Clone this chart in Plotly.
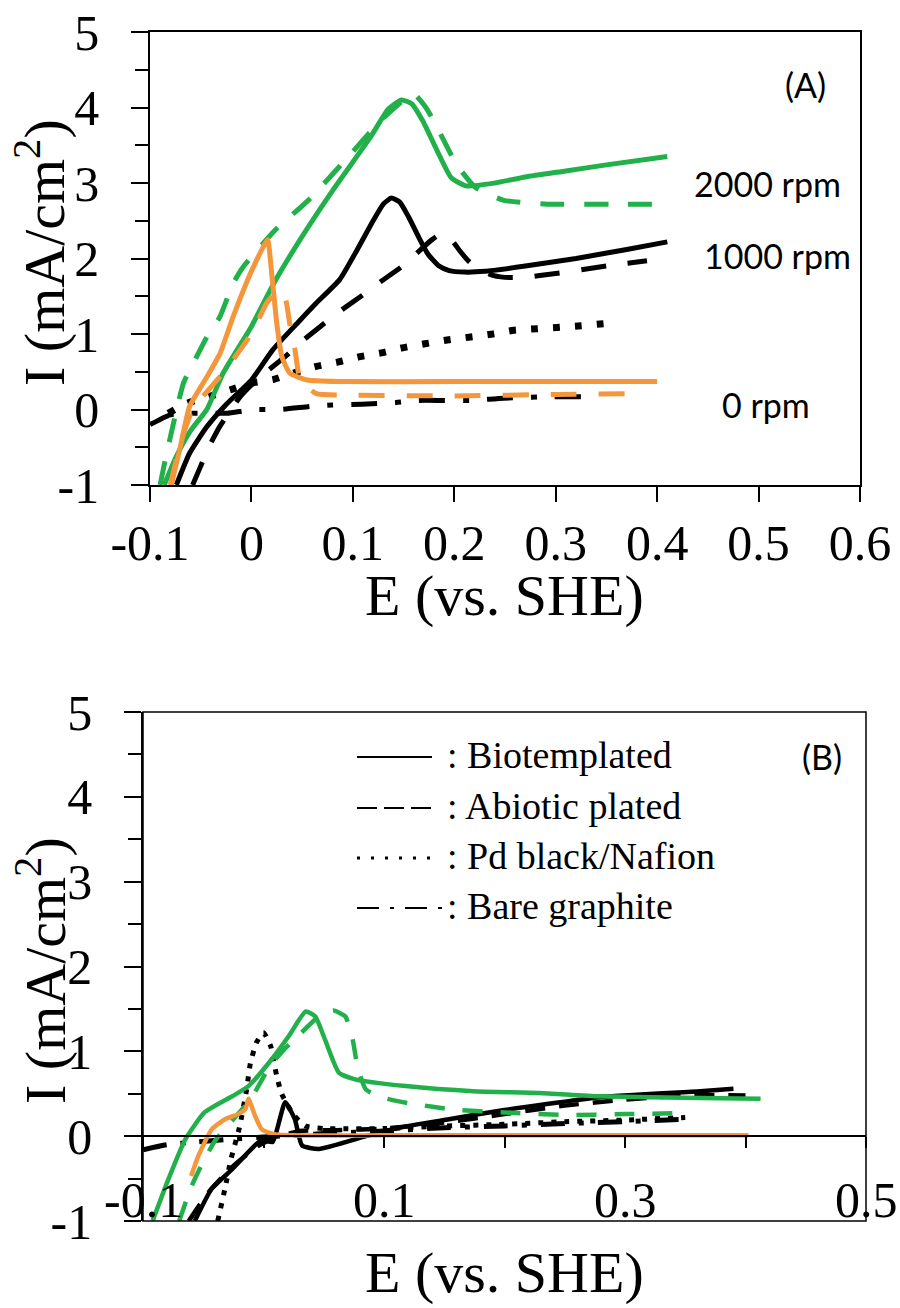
import plotly.graph_objects as go

W, H = 900, 1308

# ---------------- Panel A: rotation-rate series (E vs SHE / V, I / mA cm^-2) ----------------
A_2000_BIO_E = [-0.086, -0.074, -0.06, -0.044, -0.028, 0.0, 0.022, 0.048, 0.08, 0.117, 0.135, 0.148,
                0.158, 0.169, 0.183, 0.197, 0.212, 0.24, 0.27, 0.31, 0.35, 0.41]
A_2000_BIO_I = [-1.0, -0.62, -0.28, 0.0, 0.48, 1.1, 1.67, 2.25, 2.9, 3.6, 3.98, 4.1,
                4.05, 3.82, 3.43, 3.07, 2.96, 3.0, 3.08, 3.16, 3.24, 3.35]

A_2000_ABIO_E = [-0.09, -0.085, -0.067, -0.057, -0.044, -0.031, -0.018, -0.008, 0.023, 0.056, 0.089,
                 0.127, 0.15, 0.16, 0.172, 0.183, 0.202, 0.221, 0.249, 0.292, 0.363, 0.405]
A_2000_ABIO_I = [-1.0, -0.67, 0.35, 0.62, 0.96, 1.23, 1.67, 1.89, 2.37, 2.77, 3.25,
                 3.82, 4.1, 4.18, 4.0, 3.74, 3.25, 2.94, 2.77, 2.72, 2.72, 2.72]

A_1000_BIO_E = [-0.074, -0.061, -0.044, -0.024, 0.0, 0.021, 0.045, 0.064, 0.087, 0.104, 0.12, 0.13,
                0.138, 0.146, 0.155, 0.165, 0.174, 0.185, 0.195, 0.21, 0.23, 0.27, 0.32, 0.37, 0.41]
A_1000_BIO_I = [-1.0, -0.58, -0.23, 0.08, 0.39, 0.79, 1.14, 1.41, 1.72, 2.11, 2.5, 2.72,
                2.8, 2.75, 2.55, 2.28, 2.06, 1.9, 1.84, 1.82, 1.83, 1.9, 2.0, 2.12, 2.22]

A_1000_ABIO_E = [-0.058, -0.05, -0.044, -0.031, -0.011, 0.005, 0.035, 0.045, 0.068, 0.087, 0.107, 0.127,
                 0.15, 0.163, 0.178, 0.188, 0.197, 0.205, 0.213, 0.221, 0.235, 0.25, 0.268, 0.3, 0.35, 0.39]
A_1000_ABIO_I = [-1.0, -0.75, -0.55, -0.22, 0.17, 0.39, 0.72, 0.85, 1.10, 1.30, 1.49, 1.69,
                 1.91, 2.07, 2.25, 2.33, 2.25, 2.11, 1.98, 1.89, 1.79, 1.75, 1.75, 1.8, 1.9, 1.97]

A_1000_PD_E = [-0.082, -0.064, -0.042, -0.021, 0.0, 0.022, 0.043, 0.064, 0.086, 0.107, 0.128, 0.15,
               0.171, 0.193, 0.216, 0.238, 0.259, 0.282, 0.304, 0.325, 0.35]
A_1000_PD_I = [-0.05, 0.08, 0.17, 0.26, 0.35, 0.40, 0.49, 0.57, 0.63, 0.70, 0.75, 0.82,
               0.87, 0.92, 0.96, 1.0, 1.05, 1.07, 1.09, 1.11, 1.14]

A_1000_BARE_E = [-0.1, -0.08, -0.06, -0.04, -0.024, 0.002, 0.028, 0.058, 0.08, 0.109, 0.141, 0.164,
                 0.19, 0.216, 0.249, 0.297, 0.325]
A_1000_BARE_I = [-0.2, -0.07, -0.05, -0.05, -0.05, 0.0, 0.0, 0.04, 0.06, 0.07, 0.09, 0.12,
                 0.12, 0.12, 0.15, 0.17, 0.17]

A_0_BIO_E = [-0.079, -0.07, -0.061, -0.044, -0.031, -0.018, -0.001, 0.012, 0.016, 0.02, 0.025, 0.03,
             0.038, 0.055, 0.087, 0.2, 0.3, 0.4]
A_0_BIO_I = [-1.0, -0.49, 0.04, 0.43, 0.74, 1.23, 1.80, 2.16, 2.25, 1.8, 1.14, 0.70,
             0.48, 0.39, 0.37, 0.37, 0.37, 0.37]

A_0_ABIO_E = [-0.08, -0.07, -0.058, -0.041, -0.028, -0.011, 0.002, 0.015, 0.027, 0.033, 0.038, 0.043,
              0.047, 0.055, 0.064, 0.1, 0.2, 0.3, 0.37]
A_0_ABIO_I = [-1.0, -0.45, 0.0, 0.28, 0.48, 0.79, 1.05, 1.41, 1.58, 1.5, 1.12, 0.79,
              0.45, 0.3, 0.21, 0.19, 0.18, 0.2, 0.21]

# ---------------- Panel B ----------------
B_GREEN_BIO_E = [-0.092, -0.079, -0.065, -0.049, -0.026, -0.0125, 0.007, 0.021, 0.035, 0.043, 0.051,
                 0.0625, 0.076, 0.118, 0.174, 0.229, 0.279, 0.3625, 0.4125]
B_GREEN_BIO_I = [-1.0, -0.51, -0.04, 0.28, 0.47, 0.59, 0.91, 1.18, 1.47, 1.41, 1.14,
                 0.75, 0.67, 0.59, 0.53, 0.51, 0.47, 0.45, 0.44]

B_GREEN_ABIO_E = [-0.07, -0.06, -0.05, -0.04, -0.025, -0.01, 0.005, 0.017, 0.03, 0.045, 0.058, 0.068,
                  0.074, 0.078, 0.085, 0.1, 0.12, 0.16, 0.2, 0.25, 0.3, 0.345]
B_GREEN_ABIO_I = [-1.0, -0.6, -0.3, -0.05, 0.2, 0.45, 0.82, 1.02, 1.2, 1.4, 1.48, 1.41,
                  1.14, 0.82, 0.55, 0.45, 0.39, 0.31, 0.28, 0.25, 0.26, 0.27]

B_BLACK_BIO_E = [-0.057, -0.043, -0.026, -0.01, -0.0014, 0.0075, 0.018, 0.026, 0.032, 0.046, 0.085,
                 0.1125, 0.154, 0.196, 0.279, 0.3625, 0.39]
B_BLACK_BIO_I = [-1.0, -0.62, -0.39, -0.15, -0.04, -0.07, 0.40, 0.2, -0.11, -0.15, 0.0,
                 0.1, 0.2, 0.3, 0.46, 0.53, 0.56]

B_BLACK_ABIO_E = [-0.062, -0.045, -0.025, -0.005, 0.01, 0.03, 0.06, 0.1, 0.15, 0.2, 0.25, 0.3, 0.35, 0.4]
B_BLACK_ABIO_I = [-1.0, -0.65, -0.35, -0.12, -0.02, 0.06, 0.07, 0.09, 0.16, 0.26, 0.36, 0.43, 0.48, 0.48]

B_BLACK_PD_E = [-0.038, -0.032, -0.027, -0.02, -0.014, -0.011, -0.006, 0.0, 0.006, 0.0083, 0.011,
                0.015, 0.025, 0.035, 0.05, 0.1, 0.15, 0.2, 0.25, 0.3, 0.35]
B_BLACK_PD_I = [-1.0, -0.62, -0.27, 0.1, 0.55, 0.85, 1.1, 1.22, 1.06, 0.89, 0.71,
                0.5, 0.25, 0.12, 0.09, 0.09, 0.12, 0.14, 0.17, 0.19, 0.22]

B_BLACK_BARE_E = [-0.1, -0.08, -0.057, -0.03, 0.0, 0.05, 0.1, 0.15, 0.2, 0.25, 0.3, 0.35]
B_BLACK_BARE_I = [-0.16, -0.1, -0.07, -0.04, -0.01, 0.03, 0.06, 0.1, 0.12, 0.15, 0.17, 0.2]

B_ORANGE_BIO_E = [-0.06, -0.054, -0.043, -0.032, -0.021, -0.015, -0.0125, -0.007, -0.0014, 0.01,
                  0.1, 0.2, 0.3, 0.4025]
B_ORANGE_BIO_I = [-0.47, -0.23, 0.08, 0.2, 0.26, 0.32, 0.44, 0.24, 0.08, 0.02,
                  0.01, 0.01, 0.01, 0.01]

# ---------------- Axis ticks ----------------
A_XTICKS = [-0.1, 0.0, 0.1, 0.2, 0.3, 0.4, 0.5, 0.6]
A_XTICK_LABELS = ["-0.1", "0", "0.1", "0.2", "0.3", "0.4", "0.5", "0.6"]
Y_TICKS = [-1, 0, 1, 2, 3, 4, 5]
Y_TICK_LABELS = ["-1", "0", "1", "2", "3", "4", "5"]
B_XTICK_LABEL_VALUES = [-0.1, 0.1, 0.3, 0.5]
B_XTICK_LABELS = ["-0.1", "0.1", "0.3", "0.5"]

GREEN = "#22B04B"
ORANGE = "#F4963C"
BLACK = "#000000"

SERIF = "Liberation Serif"
SANS = "Lato"


def px_x(p):
    return p / W


def px_y(p):
    return 1 - p / H


fig = go.Figure()


def add_line(x, y, color, width, dash, xa, ya):
    fig.add_trace(go.Scatter(
        x=x, y=y, mode="lines", xaxis=xa, yaxis=ya, showlegend=False,
        line=dict(color=color, width=width, dash=dash, shape="spline", smoothing=0.5),
        hoverinfo="skip",
    ))


# panel A curves
add_line(A_1000_BARE_E, A_1000_BARE_I, BLACK, 5, "26px,18px,6px,18px", "x", "y")
add_line(A_1000_PD_E, A_1000_PD_I, BLACK, 7, "7px,15px", "x", "y")
add_line(A_1000_ABIO_E, A_1000_ABIO_I, BLACK, 5, "25px,22px", "x", "y")
add_line(A_1000_BIO_E, A_1000_BIO_I, BLACK, 5, "solid", "x", "y")
add_line(A_2000_ABIO_E, A_2000_ABIO_I, GREEN, 5, "24px,20px", "x", "y")
add_line(A_2000_BIO_E, A_2000_BIO_I, GREEN, 5, "solid", "x", "y")
add_line(A_0_ABIO_E, A_0_ABIO_I, ORANGE, 5, "26px,22px", "x", "y")
add_line(A_0_BIO_E, A_0_BIO_I, ORANGE, 5, "solid", "x", "y")

# panel B curves
add_line(B_BLACK_BARE_E, B_BLACK_BARE_I, BLACK, 5, "24px,14px,5px,14px", "x2", "y2")
add_line(B_BLACK_PD_E, B_BLACK_PD_I, BLACK, 5, "5px,8px", "x2", "y2")
add_line(B_BLACK_ABIO_E, B_BLACK_ABIO_I, BLACK, 4.5, "20px,14px", "x2", "y2")
add_line(B_BLACK_BIO_E, B_BLACK_BIO_I, BLACK, 4.5, "solid", "x2", "y2")
add_line(B_GREEN_ABIO_E, B_GREEN_ABIO_I, GREEN, 4.5, "20px,18px", "x2", "y2")
add_line(B_GREEN_BIO_E, B_GREEN_BIO_I, GREEN, 4.5, "solid", "x2", "y2")
add_line(B_ORANGE_BIO_E, B_ORANGE_BIO_I, ORANGE, 4.5, "solid", "x2", "y2")

tickfont = dict(family=SERIF, size=50, color="black")

A_DOM_X = [px_x(150), px_x(860)]
A_DOM_Y = [px_y(485), px_y(32)]
B_DOM_X = [px_x(143), px_x(866)]
B_DOM_Y = [px_y(1221), px_y(712)]
B_RANGE_Y = [-1, 5]
# the bottom panel's E axis is drawn along I = 0
b_axis_pos = B_DOM_Y[0] + (0 - B_RANGE_Y[0]) / (B_RANGE_Y[1] - B_RANGE_Y[0]) * (B_DOM_Y[1] - B_DOM_Y[0])

yaxis_common = dict(
    range=B_RANGE_Y, tickmode="array", tickvals=Y_TICKS, ticktext=Y_TICK_LABELS,
    ticks="outside", ticklen=17, tickwidth=1.5, tickcolor="black",
    minor=dict(tickmode="linear", tick0=-1, dtick=0.5, ticks="outside", ticklen=13,
               tickwidth=1.5, tickcolor="black"),
    showline=True, linecolor="black", linewidth=1.5, showgrid=False, zeroline=False,
    tickfont=tickfont, ticklabelstandoff=22, automargin=False,
)

fig.update_layout(
    width=W, height=H, margin=dict(l=0, r=0, t=0, b=0, autoexpand=False),
    paper_bgcolor="white", plot_bgcolor="white", showlegend=False,
    xaxis=dict(
        domain=A_DOM_X, anchor="y", range=[-0.1, 0.6],
        tickmode="array", tickvals=A_XTICKS, ticktext=A_XTICK_LABELS,
        ticks="outside", ticklen=15, tickwidth=1.5, tickcolor="black",
        showline=True, mirror=True, linecolor="black", linewidth=1.5,
        showgrid=False, zeroline=False, tickfont=tickfont, ticklabelstandoff=-2,
        automargin=False,
    ),
    yaxis=dict(domain=A_DOM_Y, anchor="x", mirror=True, **yaxis_common),
    xaxis2=dict(
        domain=B_DOM_X, anchor="free", position=b_axis_pos, range=[-0.1, 0.5],
        tick0=0, dtick=0.1, ticks="outside", ticklen=11, tickwidth=1.5, tickcolor="black",
        showticklabels=False, showline=True, linecolor="black", linewidth=1.5,
        showgrid=False, zeroline=False, automargin=False,
    ),
    yaxis2=dict(domain=B_DOM_Y, anchor="x2", **yaxis_common),
)

# frame around panel B
fig.add_shape(type="rect", xref="x2 domain", yref="y2 domain", x0=0, x1=1, y0=0, y1=1,
              line=dict(color="black", width=1.5), layer="above")

ann = []
# E tick labels of panel B sit inside the frame, above its lower edge
for v, t in zip(B_XTICK_LABEL_VALUES, B_XTICK_LABELS):
    ann.append(dict(x=v, xref="x2", y=px_y(1200), yref="paper", text=t, showarrow=False,
                    xanchor="center", yanchor="middle", font=tickfont))

title_font = dict(family=SERIF, size=58, color="black")
for yc in (253, 971):
    ann.append(dict(x=px_x(41), y=px_y(yc), xref="paper", yref="paper",
                    text="I (mA/cm<sup>2</sup>)", textangle=-90, showarrow=False,
                    xanchor="center", yanchor="middle", font=title_font))
for yc in (595, 1272):
    ann.append(dict(x=px_x(504), y=px_y(yc), xref="paper", yref="paper",
                    text="E (vs. SHE)", showarrow=False,
                    xanchor="center", yanchor="middle", font=dict(family=SERIF, size=58, color="black")))

label_font = dict(family=SANS, size=34, color="black")
ann += [
    dict(x=px_x(805), y=px_y(84), text="(A)", font=label_font),
    dict(x=px_x(767), y=px_y(183), text="2000 rpm", font=label_font),
    dict(x=px_x(777), y=px_y(255), text="1000 rpm", font=label_font),
    dict(x=px_x(766), y=px_y(405), text="0 rpm", font=label_font),
    dict(x=px_x(822), y=px_y(757), text="(B)", font=label_font),
]
for a in ann[-5:]:
    a.update(xref="paper", yref="paper", showarrow=False, xanchor="center", yanchor="middle")

# material key in panel B
KEY_LABELS = [": Biotemplated", ": Abiotic plated", ": Pd black/Nafion", ": Bare graphite"]
KEY_DASHES = ["solid", "20px,7px", "3px,11px", "22px,11px,4px,11px"]
KEY_WIDTHS = [2, 2, 3, 2]
key_rows = [755, 806, 856, 906]
key_ends = [432, 432, 432, 444]
for lbl, dsh, lw, yr, xe in zip(KEY_LABELS, KEY_DASHES, KEY_WIDTHS, key_rows, key_ends):
    fig.add_shape(type="line", xref="paper", yref="paper",
                  x0=px_x(357), x1=px_x(xe), y0=px_y(yr + 2), y1=px_y(yr + 2),
                  line=dict(color="black", width=lw, dash=dsh))
    ann.append(dict(x=px_x(445), y=px_y(yr), xref="paper", yref="paper", text=lbl,
                    showarrow=False, xanchor="left", yanchor="middle",
                    font=dict(family=SERIF, size=38, color="black")))

fig.update_layout(annotations=ann)

fig.write_html("out.html")
